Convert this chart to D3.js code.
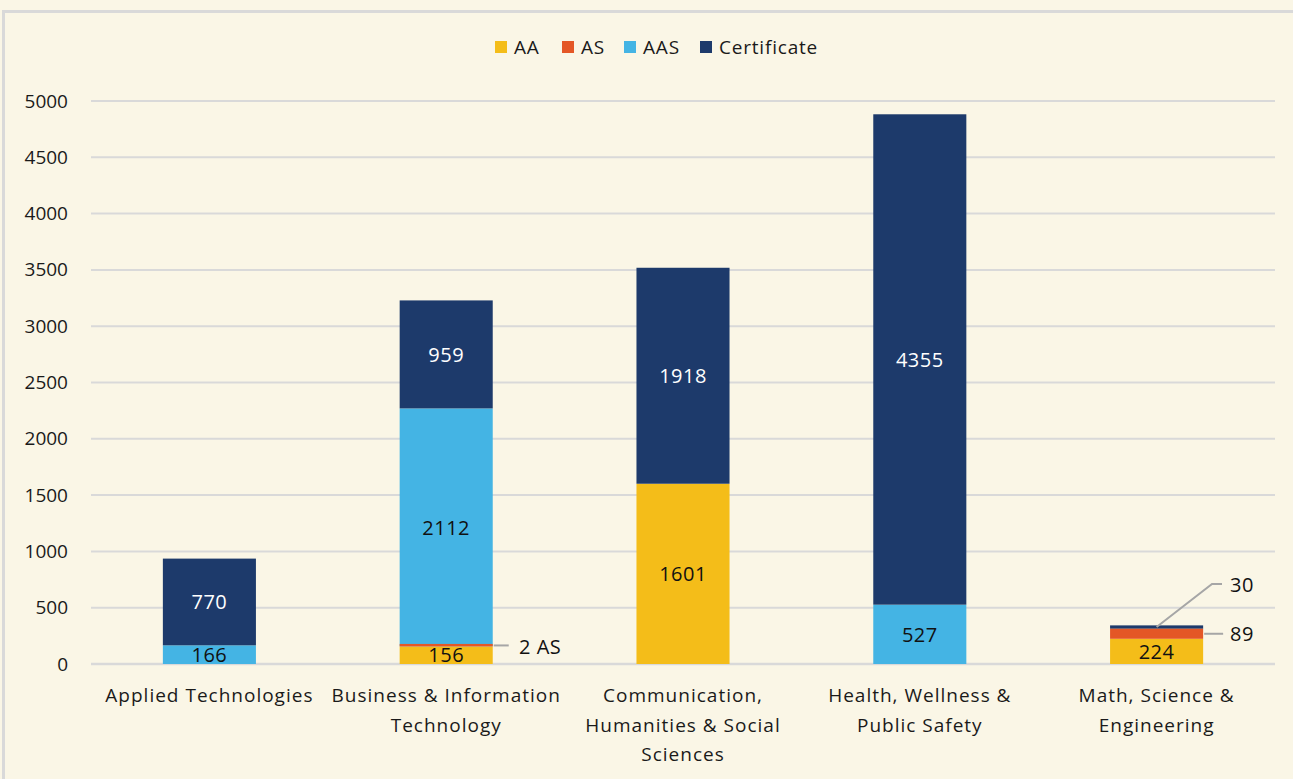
<!DOCTYPE html>
<html>
<head>
<meta charset="utf-8">
<script src="https://cdn.jsdelivr.net/npm/d3@7"></script>
<style>
  body { margin: 0; background: #faf6e6; }
  svg text { font-family: "Open Sans", Lato, sans-serif; }
</style>
</head>
<body>
<div id="chart"></div>
<script>
const CATEGORIES = [
  ["Applied Technologies"],
  ["Business & Information", "Technology"],
  ["Communication,", "Humanities & Social", "Sciences"],
  ["Health, Wellness &", "Public Safety"],
  ["Math, Science &", "Engineering"],
];
const SERIES = ["AA", "AS", "AAS", "Certificate"];
const AA = [0, 156, 1601, 0, 224];
const AS = [0, 2, 0, 0, 89];
const AAS = [166, 2112, 0, 527, 0];
const CERTIFICATE = [770, 959, 1918, 4355, 30];
const Y_TICKS = [0, 500, 1000, 1500, 2000, 2500, 3000, 3500, 4000, 4500, 5000];
const COLORS = ["#f4bd19", "#e45726", "#44b4e4", "#1d3a6b"];

var width = 1293, height = 779;
var margin = { top: 101, right: 18, bottom: 115, left: 91 };

var svg = d3.select("#chart").append("svg")
  .attr("width", width)
  .attr("height", height);

svg.append("rect")
  .attr("width", width).attr("height", height)
  .attr("fill", "#faf6e6");

// frame (only top/left visible in the original)
svg.append("path")
  .attr("d", "M3.5," + height + " V11.5 H" + width)
  .attr("fill", "none")
  .attr("stroke", "#d9d9d9")
  .attr("stroke-width", 3);

var rows = CATEGORIES.map(function (c, i) {
  return { i: i, AA: AA[i], AS: AS[i], AAS: AAS[i], Certificate: CERTIFICATE[i] };
});
var stacked = d3.stack().keys(SERIES)(rows);

var x = d3.scaleBand()
  .domain(d3.range(CATEGORIES.length))
  .range([margin.left, width - margin.right])
  .paddingInner(0.607)
  .paddingOuter(0.3035);

var y = d3.scaleLinear()
  .domain([0, 5000])
  .range([height - margin.bottom, margin.top]);

// gridlines
svg.append("g")
  .selectAll("line")
  .data(Y_TICKS)
  .join("line")
  .attr("x1", margin.left)
  .attr("x2", width - margin.right)
  .attr("y1", function (d) { return y(d); })
  .attr("y2", function (d) { return y(d); })
  .attr("stroke", "#d9d9d9")
  .attr("stroke-width", function (d) { return d === 0 ? 2.5 : 2; });

// y axis labels
var yAxis = d3.axisLeft(y).tickValues(Y_TICKS).tickFormat(d3.format("d"))
  .tickSize(0).tickPadding(0);
var yg = svg.append("g")
  .attr("transform", "translate(68,0)")
  .call(yAxis);
yg.select(".domain").remove();
yg.selectAll("text")
  .attr("font-size", 19)
  .attr("fill", "#1a1a1a")
  .attr("font-family", "'Open Sans', sans-serif");

// bars (tiny segments get a minimum height and are drawn on top, as in Excel)
var MIN_H = 2.5;
function segH(d) { return Math.max(y(d[0]) - y(d[1]), MIN_H); }

var layer = svg.append("g")
  .selectAll("g")
  .data(stacked)
  .join("g")
  .attr("fill", function (d, i) { return COLORS[i]; });

layer.selectAll("rect")
  .data(function (d) { return d.filter(function (s) { return s[1] - s[0] > 0; }); })
  .join("rect")
  .attr("x", function (d) { return x(d.data.i); })
  .attr("width", x.bandwidth())
  .attr("y", function (d) { return y(d[0]) - segH(d); })
  .attr("height", segH)
  .each(function (d) {
    if (y(d[0]) - y(d[1]) < MIN_H) d3.select(this.parentNode).raise();
  });

// in-bar value labels (skip tiny segments)
stacked.forEach(function (s, si) {
  s.forEach(function (d) {
    var v = d[1] - d[0];
    if (v < 100) return;
    svg.append("text")
      .attr("x", x(d.data.i) + x.bandwidth() / 2)
      .attr("y", (y(d[0]) + y(d[1])) / 2)
      .attr("dy", "0.36em")
      .attr("text-anchor", "middle")
      .attr("font-size", 20)
      .attr("letter-spacing", 0.5)
      .attr("fill", si === 3 ? "#ffffff" : "#111111")
      .text(v);
  });
});

// callouts for tiny segments
function callout(ci, si, points, label, tx, ty) {
  var seg = stacked[si][ci];
  var right = x(ci) + x.bandwidth();
  svg.append("path")
    .attr("d", d3.line()(points(seg, right)))
    .attr("fill", "none")
    .attr("stroke", "#a6a6a6")
    .attr("stroke-width", 2);
  svg.append("text")
    .attr("x", tx)
    .attr("y", ty)
    .attr("dy", "0.36em")
    .attr("font-size", 20)
    .attr("letter-spacing", 0.5)
    .attr("fill", "#111111")
    .text(label);
}

callout(1, 1, function (seg, right) {
  var yy = y(seg[0]) - 1;
  return [[right + 1, yy], [right + 16, yy]];
}, AS[1] + " AS", 519, 647);

callout(4, 1, function (seg, right) {
  var yy = (y(seg[0]) + y(seg[1])) / 2;
  return [[right + 1, yy], [right + 20, yy]];
}, String(AS[4]), 1230, 634);

callout(4, 3, function (seg, right) {
  var yy = (y(seg[0]) + y(seg[1])) / 2;
  var cx = x(4) + x.bandwidth() / 2;
  return [[cx, yy], [1212, 584], [1222, 584]];
}, String(CERTIFICATE[4]), 1230, 585);

// x labels
var xl = svg.append("g")
  .selectAll("text")
  .data(CATEGORIES)
  .join("text")
  .attr("text-anchor", "middle")
  .attr("font-size", 19)
  .attr("letter-spacing", 1)
  .attr("fill", "#1a1a1a")
  .attr("transform", function (d, i) {
    return "translate(" + (x(i) + x.bandwidth() / 2) + ",702)";
  });
xl.selectAll("tspan")
  .data(function (d) { return d; })
  .join("tspan")
  .attr("x", 0)
  .attr("y", function (d, i) { return i * 29.5; })
  .text(function (d) { return d; });

// legend
var legendX = [495, 562, 624, 700];
var legend = svg.append("g")
  .selectAll("g")
  .data(SERIES)
  .join("g")
  .attr("transform", function (d, i) { return "translate(" + legendX[i] + ",41)"; });
legend.append("rect")
  .attr("width", 12).attr("height", 12)
  .attr("fill", function (d, i) { return COLORS[i]; });
legend.append("text")
  .attr("x", 19)
  .attr("y", 6)
  .attr("dy", "0.36em")
  .attr("font-size", 19)
  .attr("letter-spacing", 0.8)
  .attr("fill", "#1a1a1a")
  .text(function (d) { return d; });
</script>
</body>
</html>
